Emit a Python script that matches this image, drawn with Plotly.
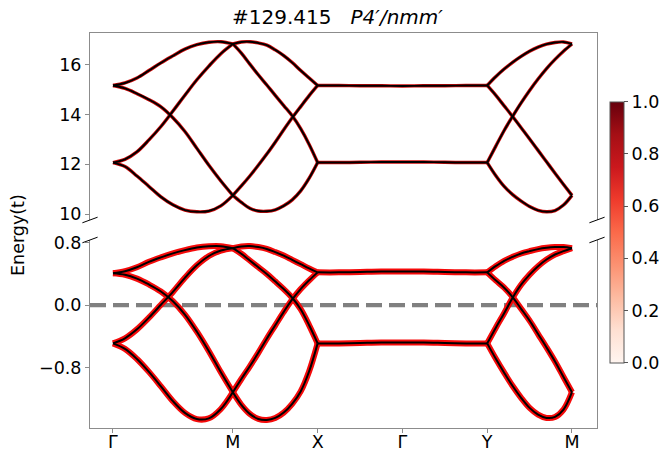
import plotly.graph_objects as go

# ---------------- data ----------------
K_NODES = [0.0, 1.414, 2.414, 3.414, 4.414, 5.414]
K_LABELS = ["Γ", "M", "X", "Γ", "Y", "M"]

T_SEG = [0.0, 0.1, 0.2, 0.3, 0.4, 0.5, 0.6, 0.7, 0.8, 0.9, 1.0]
T_FLAT = [0.0, 0.125, 0.25, 0.375, 0.5, 0.625, 0.75, 0.875, 1.0]  # X -> Γ -> Y

# upper group of bands (top panel)
TOP_GM_A = [15.17, 15.27, 15.47, 15.77, 16.08, 16.36, 16.63, 16.81, 16.91, 16.93, 16.84]
TOP_GM_B = [15.17, 15.05, 14.84, 14.60, 14.31, 13.87, 13.32, 12.64, 11.96, 11.33, 10.75]
TOP_GM_C = [12.07, 12.20, 12.50, 12.98, 13.52, 14.14, 14.78, 15.40, 15.95, 16.45, 16.84]
TOP_GM_D = [12.07, 11.91, 11.53, 11.11, 10.69, 10.37, 10.16, 10.09, 10.12, 10.33, 10.75]

TOP_MX_A = [16.84, 16.92, 16.93, 16.88, 16.79, 16.60, 16.37, 16.09, 15.77, 15.47, 15.17]
TOP_MX_B = [16.84, 16.47, 16.03, 15.60, 15.19, 14.77, 14.36, 13.95, 13.43, 12.80, 12.07]
TOP_MX_C = [10.75, 11.13, 11.53, 11.96, 12.41, 12.89, 13.39, 13.87, 14.32, 14.76, 15.17]
TOP_MX_D = [10.75, 10.47, 10.23, 10.12, 10.11, 10.17, 10.33, 10.57, 10.93, 11.44, 12.07]

TOP_FLAT_HI = [15.17, 15.17, 15.16, 15.16, 15.15, 15.16, 15.16, 15.17, 15.17]
TOP_FLAT_LO = [12.07, 12.07, 12.08, 12.09, 12.09, 12.09, 12.08, 12.07, 12.07]

TOP_YM_A = [15.17, 15.52, 15.83, 16.10, 16.34, 16.55, 16.71, 16.83, 16.90, 16.92, 16.84]
TOP_YM_B = [15.17, 14.78, 14.35, 13.92, 13.47, 13.02, 12.56, 12.10, 11.64, 11.19, 10.75]
TOP_YM_C = [12.07, 12.72, 13.36, 13.93, 14.47, 14.97, 15.43, 15.85, 16.22, 16.55, 16.84]
TOP_YM_D = [12.07, 11.55, 11.11, 10.78, 10.52, 10.30, 10.15, 10.09, 10.14, 10.36, 10.75]

# lower group of bands (bottom panel)
BOT_GM_A = [0.41, 0.435, 0.485, 0.555, 0.612, 0.663, 0.705, 0.738, 0.754, 0.755, 0.73]
BOT_GM_B = [0.41, 0.39, 0.34, 0.265, 0.175, 0.05, -0.12, -0.34, -0.59, -0.86, -1.115]
BOT_GM_C = [-0.49, -0.425, -0.31, -0.16, 0.005, 0.17, 0.35, 0.51, 0.63, 0.70, 0.73]
BOT_GM_D = [-0.49, -0.56, -0.69, -0.855, -1.04, -1.23, -1.38, -1.46, -1.45, -1.33, -1.115]

BOT_MX_A = [0.73, 0.752, 0.757, 0.744, 0.72, 0.68, 0.635, 0.58, 0.525, 0.47, 0.42]
BOT_MX_B = [0.73, 0.658, 0.572, 0.486, 0.400, 0.305, 0.206, 0.095, -0.052, -0.258, -0.49]
BOT_MX_C = [-1.115, -0.946, -0.783, -0.611, -0.430, -0.258, -0.086, 0.073, 0.206, 0.318, 0.42]
BOT_MX_D = [-1.115, -1.277, -1.393, -1.458, -1.471, -1.445, -1.376, -1.264, -1.105, -0.847, -0.49]

BOT_FLAT_HI = [0.42, 0.42, 0.425, 0.43, 0.43, 0.43, 0.425, 0.42, 0.42]
BOT_FLAT_LO = [-0.49, -0.49, -0.485, -0.48, -0.48, -0.48, -0.485, -0.49, -0.49]

BOT_YM_A = [0.42, 0.499, 0.568, 0.619, 0.662, 0.692, 0.718, 0.735, 0.744, 0.744, 0.73]
BOT_YM_B = [0.42, 0.318, 0.224, 0.103, -0.047, -0.198, -0.370, -0.542, -0.722, -0.920, -1.115]
BOT_YM_C = [-0.49, -0.292, -0.103, 0.095, 0.262, 0.391, 0.499, 0.585, 0.649, 0.692, 0.73]
BOT_YM_D = [-0.49, -0.684, -0.865, -1.036, -1.187, -1.316, -1.402, -1.445, -1.432, -1.338, -1.115]

CBAR_TICKS = [0.0, 0.2, 0.4, 0.6, 0.8, 1.0]
REDS = [[0.0, "rgb(255,245,240)"], [0.125, "rgb(254,224,210)"], [0.25, "rgb(252,187,161)"],
        [0.375, "rgb(252,146,114)"], [0.5, "rgb(251,106,74)"], [0.625, "rgb(239,59,44)"],
        [0.75, "rgb(203,24,29)"], [0.875, "rgb(165,15,21)"], [1.0, "rgb(103,0,13)"]]

# ---------------- build ----------------
def seg_k(i0, i1, ts):
    a, b = K_NODES[i0], K_NODES[i1]
    return [a + t * (b - a) for t in ts]

k_gm = seg_k(0, 1, T_SEG)
k_mx = seg_k(1, 2, T_SEG)
k_flat = seg_k(2, 4, T_FLAT)
k_ym = seg_k(4, 5, T_SEG)

top_curves = [(k_gm, c) for c in (TOP_GM_A, TOP_GM_B, TOP_GM_C, TOP_GM_D)] + \
             [(k_mx, c) for c in (TOP_MX_A, TOP_MX_B, TOP_MX_C, TOP_MX_D)] + \
             [(k_flat, c) for c in (TOP_FLAT_HI, TOP_FLAT_LO)] + \
             [(k_ym, c) for c in (TOP_YM_A, TOP_YM_B, TOP_YM_C, TOP_YM_D)]
bot_curves = [(k_gm, c) for c in (BOT_GM_A, BOT_GM_B, BOT_GM_C, BOT_GM_D)] + \
             [(k_mx, c) for c in (BOT_MX_A, BOT_MX_B, BOT_MX_C, BOT_MX_D)] + \
             [(k_flat, c) for c in (BOT_FLAT_HI, BOT_FLAT_LO)] + \
             [(k_ym, c) for c in (BOT_YM_A, BOT_YM_B, BOT_YM_C, BOT_YM_D)]

fig = go.Figure()

def add_band(k, e, xa, ya, color, width):
    fig.add_trace(go.Scatter(x=k, y=e, xaxis=xa, yaxis=ya, mode="lines",
                             line=dict(color=color, width=width, shape="spline", smoothing=1.0),
                             hoverinfo="skip", showlegend=False))

# red halos first
for k, e in top_curves:
    add_band(k, e, "x2", "y2", "rgb(205,10,10)", 3.4)
for k, e in bot_curves:
    add_band(k, e, "x", "y", "rgb(245,10,10)", 6.0)
# black cores on top
for k, e in top_curves:
    add_band(k, e, "x2", "y2", "black", 1.9)
for k, e in bot_curves:
    add_band(k, e, "x", "y", "black", 2.0)

FS = 17.5

# colorbar carrier
fig.add_trace(go.Scatter(x=[K_NODES[0]], y=[BOT_FLAT_HI[0]], xaxis="x", yaxis="y", mode="markers",
                         marker=dict(size=1, opacity=0, color=[CBAR_TICKS[-1]], colorscale=REDS,
                                     cmin=CBAR_TICKS[0], cmax=CBAR_TICKS[-1], showscale=True,
                                     colorbar=dict(thickness=14, thicknessmode="pixels",
                                                   len=0.6615, lenmode="fraction",
                                                   x=1.0256, xanchor="left", y=0.826, yanchor="top",
                                                   xpad=0, ypad=0, outlinewidth=1, outlinecolor="#555",
                                                   tickvals=CBAR_TICKS,
                                                   ticktext=["%.1f" % v for v in CBAR_TICKS],
                                                   ticks="outside", ticklen=4, tickcolor="#555",
                                                   tickfont=dict(size=FS, color="black"))),
                         hoverinfo="skip", showlegend=False))

FONT = "DejaVu Sans"
LINEC = "#8c8c8c"
XR = [-0.271, 5.709]
BOT_DOM = [0.0, 0.476]
TOP_DOM = [0.5266, 1.0]
TICKFONT = dict(family=FONT, size=FS, color="black")

fig.update_layout(
    width=662, height=453,
    margin=dict(l=90, r=65, t=33, b=25, pad=0, autoexpand=False),
    paper_bgcolor="white", plot_bgcolor="white",
    font=dict(family=FONT, size=FS, color="black"),
    title=dict(text="#129.415\u00a0\u00a0\u00a0<i>P4′/nmm′</i>", x=0.488, xref="paper", xanchor="center",
               y=1 - 17 / 453, yref="container", yanchor="middle",
               font=dict(family=FONT, size=20, color="black")),
    xaxis=dict(domain=[0, 1], range=XR, anchor="y", showgrid=False, zeroline=False, automargin=False,
               showline=True, linecolor=LINEC, linewidth=1, mirror=False,
               tickmode="array", tickvals=K_NODES, ticktext=K_LABELS,
               ticks="outside", ticklen=4, tickcolor=LINEC, tickfont=TICKFONT,
               ticklabelstandoff=-6),
    xaxis2=dict(domain=[0, 1], range=XR, anchor="y2", side="top", showgrid=False, zeroline=False,
                automargin=False, showline=True, linecolor=LINEC, linewidth=1, mirror=False,
                showticklabels=False, ticks=""),
    yaxis=dict(domain=BOT_DOM, range=[-1.574, 0.835], anchor="x", showgrid=False, zeroline=False,
               automargin=False, showline=True, linecolor=LINEC, linewidth=1, mirror=True,
               tickmode="array", tickvals=[-0.8, 0.0, 0.8], ticktext=["−0.8", "0.0", "0.8"],
               ticks="outside", ticklen=4, tickcolor=LINEC, tickfont=TICKFONT),
    yaxis2=dict(domain=TOP_DOM, range=[9.76, 17.28], anchor="x2", showgrid=False, zeroline=False,
                automargin=False, showline=True, linecolor=LINEC, linewidth=1, mirror=True,
                tickmode="array", tickvals=[10, 12, 14, 16], ticktext=["10", "12", "14", "16"],
                ticks="outside", ticklen=4, tickcolor=LINEC, tickfont=TICKFONT),
)

# Fermi level dashed line
fig.add_shape(type="line", xref="x domain", x0=0, x1=1, yref="y", y0=0, y1=0,
              line=dict(color="rgb(128,128,128)", width=4.3, dash="16px,7px"), layer="below")

# axis break marks
dx = 0.015
dy_top = 2.8 / 395
for xc in (0.0, 1.0):
    for yc in (TOP_DOM[0], BOT_DOM[1]):
        fig.add_shape(type="line", xref="paper", yref="paper",
                      x0=xc - dx, x1=xc + dx, y0=yc - dy_top, y1=yc + dy_top,
                      line=dict(color="black", width=1))

# y label
fig.add_annotation(text="Energy(t)", xref="paper", yref="paper", x=(18 - 90) / 507, y=(428 - 235) / 395,
                   textangle=-90, showarrow=False, xanchor="center", yanchor="middle",
                   font=dict(family=FONT, size=FS, color="black"))

fig.write_html("out.html", config={"displayModeBar": False},
               post_script="document.body.style.margin='0';document.body.style.overflow='hidden';")
